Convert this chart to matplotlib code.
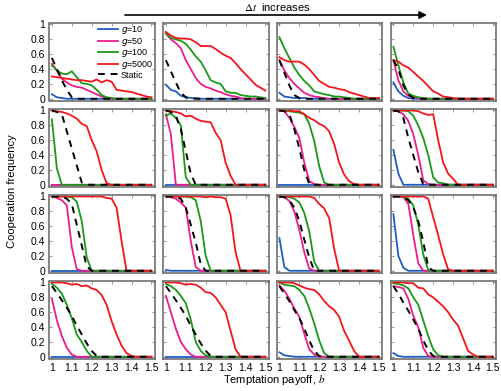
import matplotlib
matplotlib.use('Agg')
import matplotlib.pyplot as plt
from matplotlib.font_manager import FontProperties

plt.rcParams['font.family'] = ['Liberation Sans', 'DejaVu Sans']
plt.rcParams['mathtext.fontset'] = 'stix'
plt.rcParams['mathtext.it'] = 'Liberation Sans:italic'
plt.rcParams['mathtext.rm'] = 'Liberation Sans'

# temptation payoff grid
b = [1.0, 1.025, 1.05, 1.075, 1.1, 1.125, 1.15, 1.175, 1.2, 1.225, 1.25,
     1.275, 1.3, 1.325, 1.35, 1.375, 1.4, 1.425, 1.45, 1.475, 1.5]

# one list per panel, row by row (Δt grows to the right)
g10 = [
    [0.06, 0.02, 0.01, 0, 0, 0, 0, 0, 0, 0, 0, 0, 0, 0, 0, 0, 0, 0, 0, 0, 0],
    [0.19, 0.12, 0.1, 0.04, 0.02, 0.01, 0.01, 0, 0, 0, 0, 0, 0, 0, 0, 0, 0, 0, 0, 0, 0],
    [0.08, 0.03, 0.02, 0.01, 0.01, 0.01, 0, 0, 0, 0, 0, 0, 0, 0, 0, 0, 0, 0, 0, 0, 0],
    [0.22, 0.1, 0.04, 0.01, 0, 0, 0, 0, 0, 0, 0, 0, 0, 0, 0, 0, 0, 0, 0, 0, 0],
    [0, 0, 0, 0, 0, 0, 0, 0, 0, 0, 0, 0, 0, 0, 0, 0, 0, 0, 0, 0, 0],
    [0, 0, 0, 0, 0, 0, 0, 0, 0, 0, 0, 0, 0, 0, 0, 0, 0, 0, 0, 0, 0],
    [0, 0, 0, 0, 0, 0, 0, 0, 0, 0, 0, 0, 0, 0, 0, 0, 0, 0, 0, 0, 0],
    [0.47, 0.15, 0, 0, 0, 0, 0, 0, 0, 0, 0, 0, 0, 0, 0, 0, 0, 0, 0, 0, 0],
    [0, 0, 0, 0, 0, 0, 0, 0, 0, 0, 0, 0, 0, 0, 0, 0, 0, 0, 0, 0, 0],
    [0.01, 0, 0, 0, 0, 0, 0, 0, 0, 0, 0, 0, 0, 0, 0, 0, 0, 0, 0, 0, 0],
    [0.44, 0.05, 0, 0, 0, 0, 0, 0, 0, 0, 0, 0, 0, 0, 0, 0, 0, 0, 0, 0, 0],
    [0.76, 0.2, 0.04, 0, 0, 0, 0, 0, 0, 0, 0, 0, 0, 0, 0, 0, 0, 0, 0, 0, 0],
    [0, 0, 0, 0, 0, 0, 0, 0, 0, 0, 0, 0, 0, 0, 0, 0, 0, 0, 0, 0, 0],
    [0, 0, 0, 0, 0, 0, 0, 0, 0, 0, 0, 0, 0, 0, 0, 0, 0, 0, 0, 0, 0],
    [0.06, 0.02, 0.01, 0, 0, 0, 0, 0, 0, 0, 0, 0, 0, 0, 0, 0, 0, 0, 0, 0, 0],
    [0.05, 0.01, 0, 0, 0, 0, 0, 0, 0, 0, 0, 0, 0, 0, 0, 0, 0, 0, 0, 0, 0],
]
g50 = [
    [0.47, 0.38, 0.27, 0.22, 0.18, 0.16, 0.15, 0.12, 0.09, 0.06, 0.03, 0.01, 0, 0, 0, 0, 0, 0, 0, 0, 0],
    [0.88, 0.8, 0.75, 0.68, 0.52, 0.4, 0.28, 0.2, 0.16, 0.14, 0.11, 0.09, 0.06, 0.04, 0.03, 0.01, 0, 0, 0, 0, 0],
    [0.52, 0.38, 0.28, 0.2, 0.14, 0.08, 0.05, 0.03, 0.02, 0.01, 0, 0, 0, 0, 0, 0, 0, 0, 0, 0, 0],
    [0.52, 0.25, 0.1, 0.04, 0.02, 0.01, 0, 0, 0, 0, 0, 0, 0, 0, 0, 0, 0, 0, 0, 0, 0],
    [0, 0, 0, 0, 0, 0, 0, 0, 0, 0, 0, 0, 0, 0, 0, 0, 0, 0, 0, 0, 0],
    [0.95, 0.68, 0, 0, 0, 0, 0, 0, 0, 0, 0, 0, 0, 0, 0, 0, 0, 0, 0, 0, 0],
    [1.0, 0.99, 0.9, 0.78, 0.63, 0.3, 0.05, 0.01, 0, 0, 0, 0, 0, 0, 0, 0, 0, 0, 0, 0, 0],
    [1.0, 0.99, 0.95, 0.86, 0.68, 0.4, 0.06, 0.01, 0, 0, 0, 0, 0, 0, 0, 0, 0, 0, 0, 0, 0],
    [1.0, 0.98, 0.95, 0.88, 0.32, 0.02, 0, 0, 0, 0, 0, 0, 0, 0, 0, 0, 0, 0, 0, 0, 0],
    [1.0, 0.99, 0.97, 0.92, 0.85, 0.4, 0.05, 0, 0, 0, 0, 0, 0, 0, 0, 0, 0, 0, 0, 0, 0],
    [1.0, 0.99, 0.94, 0.8, 0.55, 0.25, 0.03, 0, 0, 0, 0, 0, 0, 0, 0, 0, 0, 0, 0, 0, 0],
    [1.0, 1.0, 0.99, 0.9, 0.48, 0.1, 0, 0, 0, 0, 0, 0, 0, 0, 0, 0, 0, 0, 0, 0, 0],
    [0.78, 0.49, 0.28, 0.12, 0.03, 0, 0, 0, 0, 0, 0, 0, 0, 0, 0, 0, 0, 0, 0, 0, 0],
    [0.82, 0.6, 0.38, 0.2, 0.1, 0.03, 0, 0, 0, 0, 0, 0, 0, 0, 0, 0, 0, 0, 0, 0, 0],
    [0.96, 0.89, 0.78, 0.65, 0.54, 0.31, 0.1, 0.03, 0, 0, 0, 0, 0, 0, 0, 0, 0, 0, 0, 0, 0],
    [0.95, 0.94, 0.92, 0.78, 0.55, 0.4, 0.12, 0.01, 0, 0, 0, 0, 0, 0, 0, 0, 0, 0, 0, 0, 0],
]
g100 = [
    [0.45, 0.38, 0.34, 0.33, 0.37, 0.29, 0.21, 0.2, 0.18, 0.12, 0.05, 0.02, 0.01, 0, 0, 0, 0, 0, 0, 0, 0],
    [0.88, 0.82, 0.8, 0.78, 0.74, 0.66, 0.57, 0.5, 0.38, 0.25, 0.22, 0.2, 0.1, 0.08, 0.08, 0.05, 0.04, 0.03, 0.03, 0.02, 0.01],
    [0.83, 0.68, 0.55, 0.42, 0.32, 0.24, 0.18, 0.1, 0.08, 0.06, 0.05, 0.03, 0.03, 0.02, 0.01, 0, 0, 0, 0, 0, 0],
    [0.7, 0.45, 0.22, 0.07, 0.04, 0.02, 0.01, 0, 0, 0, 0, 0, 0, 0, 0, 0, 0, 0, 0, 0, 0],
    [0.88, 0.22, 0, 0, 0, 0, 0, 0, 0, 0, 0, 0, 0, 0, 0, 0, 0, 0, 0, 0, 0],
    [0.93, 0.96, 0.9, 0.8, 0.1, 0, 0, 0, 0, 0, 0, 0, 0, 0, 0, 0, 0, 0, 0, 0, 0],
    [1.0, 1.0, 0.99, 0.98, 0.97, 0.95, 0.82, 0.59, 0.25, 0.03, 0, 0, 0, 0, 0, 0, 0, 0, 0, 0, 0],
    [1.0, 1.0, 1.0, 0.99, 0.93, 0.8, 0.63, 0.4, 0.1, 0.03, 0.02, 0, 0, 0, 0, 0, 0, 0, 0, 0, 0],
    [1.0, 1.0, 1.0, 1.0, 0.99, 0.93, 0.67, 0.18, 0, 0, 0, 0, 0, 0, 0, 0, 0, 0, 0, 0, 0],
    [1.0, 1.0, 1.0, 1.0, 1.0, 0.99, 0.95, 0.67, 0.2, 0, 0, 0, 0, 0, 0, 0, 0, 0, 0, 0, 0],
    [1.0, 1.0, 0.99, 0.97, 0.92, 0.78, 0.53, 0.12, 0, 0, 0, 0, 0, 0, 0, 0, 0, 0, 0, 0, 0],
    [1.0, 1.0, 1.0, 0.97, 0.88, 0.62, 0.22, 0.01, 0, 0, 0, 0, 0, 0, 0, 0, 0, 0, 0, 0, 0],
    [0.98, 0.93, 0.85, 0.7, 0.52, 0.3, 0.2, 0.08, 0, 0, 0, 0, 0, 0, 0, 0, 0, 0, 0, 0, 0],
    [0.98, 0.95, 0.9, 0.82, 0.72, 0.5, 0.2, 0.08, 0.02, 0, 0, 0, 0, 0, 0, 0, 0, 0, 0, 0, 0],
    [1.0, 0.97, 0.96, 0.95, 0.9, 0.82, 0.65, 0.45, 0.22, 0.05, 0, 0, 0, 0, 0, 0, 0, 0, 0, 0, 0],
    [0.99, 0.98, 0.96, 0.92, 0.8, 0.7, 0.49, 0.28, 0.1, 0.02, 0, 0, 0, 0, 0, 0, 0, 0, 0, 0, 0],
]
g5000 = [
    [0.3, 0.29, 0.28, 0.27, 0.26, 0.25, 0.25, 0.24, 0.23, 0.26, 0.22, 0.25, 0.23, 0.12, 0.11, 0.1, 0.09, 0.07, 0.05, 0.03, 0.02],
    [0.9, 0.85, 0.82, 0.81, 0.81, 0.8, 0.76, 0.71, 0.71, 0.71, 0.67, 0.62, 0.58, 0.55, 0.48, 0.4, 0.33, 0.26, 0.19, 0.15, 0.11],
    [0.56, 0.52, 0.5, 0.5, 0.5, 0.46, 0.4, 0.32, 0.24, 0.2, 0.16, 0.15, 0.13, 0.12, 0.09, 0.07, 0.05, 0.03, 0.01, 0.01, 0.01],
    [0.52, 0.5, 0.45, 0.42, 0.36, 0.3, 0.24, 0.17, 0.1, 0.07, 0.03, 0.02, 0.01, 0, 0, 0, 0, 0, 0, 0, 0],
    [1.0, 0.99, 0.98, 0.96, 0.93, 0.89, 0.82, 0.79, 0.6, 0.45, 0.2, 0.02, 0, 0, 0, 0, 0, 0, 0, 0, 0],
    [1.0, 0.99, 0.98, 0.96, 0.92, 0.93, 0.89, 0.86, 0.85, 0.84, 0.7, 0.6, 0.3, 0.12, 0, 0, 0, 0, 0, 0, 0],
    [1.0, 1.0, 1.0, 0.99, 0.99, 0.95, 0.9, 0.87, 0.82, 0.79, 0.72, 0.55, 0.3, 0.14, 0.05, 0.01, 0, 0, 0, 0, 0],
    [1.0, 1.0, 1.0, 1.0, 1.0, 0.99, 0.96, 0.94, 0.95, 0.6, 0.3, 0.15, 0.08, 0, 0, 0, 0, 0, 0, 0, 0],
    [1.0, 1.0, 1.0, 1.0, 1.0, 1.0, 1.0, 1.0, 1.0, 1.0, 1.0, 0.98, 0.97, 0.85, 0.4, 0, 0, 0, 0, 0, 0],
    [1.0, 1.0, 1.0, 1.0, 1.0, 1.0, 1.0, 1.0, 0.99, 1.0, 0.99, 0.99, 0.97, 0.75, 0.25, 0, 0, 0, 0, 0, 0],
    [1.0, 1.0, 1.0, 1.0, 1.0, 1.0, 1.0, 0.98, 0.9, 0.84, 0.71, 0.3, 0, 0, 0, 0, 0, 0, 0, 0, 0],
    [1.0, 1.0, 1.0, 1.0, 1.0, 1.0, 1.0, 0.97, 0.72, 0.48, 0.22, 0.02, 0, 0, 0, 0, 0, 0, 0, 0, 0],
    [1.0, 1.0, 1.0, 0.99, 0.97, 0.98, 0.95, 0.96, 0.92, 0.9, 0.83, 0.7, 0.48, 0.3, 0.15, 0.05, 0.01, 0, 0, 0, 0],
    [1.0, 1.0, 1.0, 0.99, 0.97, 0.98, 0.97, 0.93, 0.87, 0.86, 0.8, 0.7, 0.6, 0.35, 0.1, 0, 0, 0, 0, 0, 0],
    [1.0, 1.0, 1.0, 0.99, 0.96, 0.93, 0.91, 0.9, 0.84, 0.75, 0.68, 0.63, 0.54, 0.35, 0.22, 0.08, 0, 0, 0, 0, 0],
    [1.0, 1.0, 1.0, 0.99, 0.99, 0.93, 0.92, 0.84, 0.8, 0.74, 0.68, 0.6, 0.5, 0.42, 0.25, 0.08, 0.03, 0, 0, 0, 0],
]
static = [
    [0.55, 0.4, 0.25, 0.12, 0.02, 0, 0, 0, 0, 0, 0, 0, 0, 0, 0, 0, 0, 0, 0, 0, 0],
    [0.52, 0.37, 0.22, 0.08, 0.02, 0, 0, 0, 0, 0, 0, 0, 0, 0, 0, 0, 0, 0, 0, 0, 0],
    [0.52, 0.35, 0.18, 0.05, 0.01, 0, 0, 0, 0, 0, 0, 0, 0, 0, 0, 0, 0, 0, 0, 0, 0],
    [0.52, 0.4, 0.18, 0.06, 0.01, 0, 0, 0, 0, 0, 0, 0, 0, 0, 0, 0, 0, 0, 0, 0, 0],
    [1.0, 0.98, 0.95, 0.72, 0.49, 0.26, 0.03, 0, 0, 0, 0, 0, 0, 0, 0, 0, 0, 0, 0, 0, 0],
    [1.0, 0.98, 0.93, 0.75, 0.45, 0.15, 0, 0, 0, 0, 0, 0, 0, 0, 0, 0, 0, 0, 0, 0, 0],
    [1.0, 0.99, 0.95, 0.75, 0.49, 0.2, 0.01, 0, 0, 0, 0, 0, 0, 0, 0, 0, 0, 0, 0, 0, 0],
    [1.0, 0.99, 0.9, 0.63, 0.4, 0.17, 0.01, 0, 0, 0, 0, 0, 0, 0, 0, 0, 0, 0, 0, 0, 0],
    [1.0, 1.0, 1.0, 0.97, 0.9, 0.62, 0.34, 0.06, 0, 0, 0, 0, 0, 0, 0, 0, 0, 0, 0, 0, 0],
    [1.0, 1.0, 0.99, 0.97, 0.85, 0.62, 0.38, 0.09, 0, 0, 0, 0, 0, 0, 0, 0, 0, 0, 0, 0, 0],
    [1.0, 0.99, 0.95, 0.85, 0.67, 0.42, 0.18, 0, 0, 0, 0, 0, 0, 0, 0, 0, 0, 0, 0, 0, 0],
    [1.0, 1.0, 0.99, 0.95, 0.85, 0.67, 0.39, 0.05, 0, 0, 0, 0, 0, 0, 0, 0, 0, 0, 0, 0, 0],
    [0.95, 0.86, 0.76, 0.66, 0.55, 0.42, 0.3, 0.18, 0.08, 0.01, 0, 0, 0, 0, 0, 0, 0, 0, 0, 0, 0],
    [0.95, 0.86, 0.76, 0.66, 0.55, 0.42, 0.3, 0.18, 0.08, 0.01, 0, 0, 0, 0, 0, 0, 0, 0, 0, 0, 0],
    [0.95, 0.85, 0.75, 0.63, 0.52, 0.38, 0.22, 0.08, 0.01, 0, 0, 0, 0, 0, 0, 0, 0, 0, 0, 0, 0],
    [0.95, 0.85, 0.73, 0.62, 0.5, 0.38, 0.22, 0.09, 0.01, 0, 0, 0, 0, 0, 0, 0, 0, 0, 0, 0, 0],
]

labels = ['$g$=10', '$g$=50', '$g$=100', '$g$=5000', 'Static']
colors = ['#1d5cc4', '#ec1c8c', '#179a17', '#f5141a', 'black']
xticks = [1, 1.1, 1.2, 1.3, 1.4, 1.5]
yticks = [0, 0.2, 0.4, 0.6, 0.8, 1]

W, H = 502, 391
fig = plt.figure(figsize=(W / 100, H / 100), dpi=100)

lefts = [49.5, 163.5, 277, 391]
tops = [23, 109, 195, 281]
aw, ah = 105.5, 78

for i in range(16):
    r, c = i // 4, i % 4
    ax = fig.add_axes([lefts[c] / W, 1 - (tops[r] + ah) / H, aw / W, ah / H])
    ax.plot(b, g10[i], color=colors[0], lw=1.3, label=labels[0])
    ax.plot(b, g50[i], color=colors[1], lw=1.3, label=labels[1])
    ax.plot(b, g100[i], color=colors[2], lw=1.3, label=labels[2])
    ax.plot(b, g5000[i], color=colors[3], lw=1.3, label=labels[3])
    ax.plot(b, static[i], color=colors[4], lw=1.4, ls=(0, (3.5, 3)), label=labels[4])
    ax.set_xlim(0.988, 1.518)
    ax.set_ylim(-0.03, 1.02)
    ax.set_xticks(xticks)
    ax.set_yticks(yticks)
    ax.tick_params(direction='in', length=2, width=0.6, color='#888888',
                   top=True, right=True, labelsize=7.5, pad=3)
    for s in ax.spines.values():
        s.set_color('#707070')
        s.set_linewidth(1.2)
    if c == 0:
        ax.set_yticklabels(['0', '0.2', '0.4', '0.6', '0.8', '1'])
    else:
        ax.set_yticklabels([])
    if r == 3:
        ax.set_xticklabels(['1', '1.1', '1.2', '1.3', '1.4', '1.5'])
    else:
        ax.set_xticklabels([])
    if i == 0:
        leg = ax.legend(loc='upper right', frameon=False, handlelength=2.2,
                        labelspacing=-0.05, borderaxespad=0.05, handletextpad=0.3,
                        borderpad=0.1,
                        prop=FontProperties(family='Liberation Sans', size=6.5,
                                            math_fontfamily='dejavusans'))

fig.text(12 / W, 1 - 191 / H, 'Cooperation frequency', rotation=90,
         ha='center', va='center', fontsize=8)
fig.text(274 / W, 1 - 380 / H, 'Temptation payoff, $b$', ha='center',
         va='center', fontsize=8)

plt.annotate('', xy=(427 / W, 1 - 15 / H), xytext=(125 / W, 1 - 15 / H),
             xycoords='figure fraction', textcoords='figure fraction',
             arrowprops=dict(arrowstyle='-|>', color='black', lw=1.2,
                             mutation_scale=11, shrinkA=0, shrinkB=0))
fig.text(277 / W, 1 - 7 / H, r'$\Delta t$  increases', ha='center',
         va='center', fontsize=8)

fig.savefig('out.png', dpi=100)
